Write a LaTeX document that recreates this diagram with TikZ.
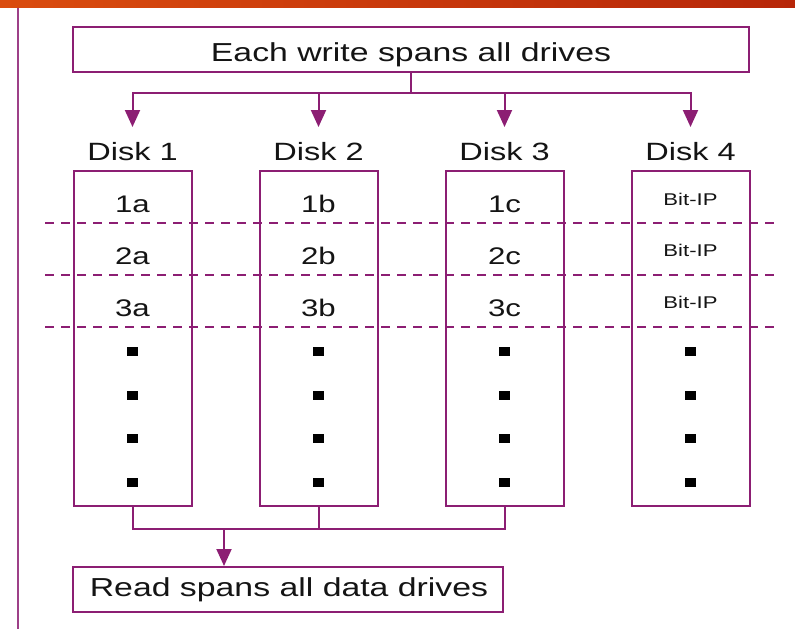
\documentclass[tikz,border=0pt]{standalone}
\usepackage{fontspec}
\setmainfont{Liberation Sans}
\usepackage{graphicx}
\usetikzlibrary{arrows.meta}

\definecolor{raidline}{RGB}{140,30,115}
\definecolor{bandL}{RGB}{218,76,14}
\definecolor{bandR}{RGB}{183,38,8}
\definecolor{inkc}{RGB}{20,20,20}

% slide text is set horizontally widened
\newcommand\wide[1]{\scalebox{1.3}[1]{#1}}
\newcommand\fsz[1]{\fontsize{#1}{#1}\selectfont}

\begin{document}
\begin{tikzpicture}[x=1pt,y=-1pt,
  frame/.style={draw=raidline, line width=2pt, inner sep=0pt},
  wire/.style={draw=raidline, line width=2pt, line cap=rect},
  arrowline/.style={draw=raidline, line width=2pt, -{Triangle[length=17pt,width=15pt]}},
  stripe/.style={draw=raidline, line width=1.6pt, dash pattern=on 9pt off 7pt},
  caption/.style={anchor=base, inner sep=0pt, text=inkc, font=\fsz{26}},
  disklabel/.style={anchor=base, inner sep=0pt, text=inkc, font=\fsz{25}},
  blocklabel/.style={anchor=base, inner sep=0pt, text=inkc, font=\fsz{24}},
  paritylabel/.style={anchor=base, inner sep=0pt, text=inkc, font=\fsz{17}},
  blob/.style={fill=black, inner sep=0pt, minimum width=11.5pt, minimum height=9pt},
]
\useasboundingbox (0,0) rectangle (795,629);

% header band and side rule
\shade[left color=bandL, right color=bandR] (0,0) rectangle (795,7.5);
\draw[draw=raidline!85, line width=2pt] (18,7.5) -- (18,629);

% stripe boundaries across all drives
\foreach \y [count=\n] in {223,275,327} {
  \coordinate (sl\n) at (45,\y);
  \coordinate (sr\n) at (778,\y);
  \draw[stripe] (sl\n) -- (sr\n);
}

% write request
\node[frame, minimum width=676pt, minimum height=45pt] (wbox) at (411,49.5) {};
\node[caption] (wtext) at (411,61.7) {\wide{Each write spans all drives}};

% drives
\foreach \i/\x in {1/132.5,2/318.5,3/504.5,4/690.5} {
  \node[frame, minimum width=118pt, minimum height=335pt] (disk\i) at (\x,338.5) {};
  \node[disklabel] (dlabel\i) at (\x,160) {\wide{Disk \i}};
  \coordinate (tap\i) at (\x,93);
  \coordinate (tip\i) at (\x,127);
  \draw[arrowline] (tap\i) -- (tip\i);
  \foreach \y [count=\k] in {351,395,438.5,482.5}
    \node[blob] (dot\i\k) at (\x,\y) {};
}

% data blocks
\foreach \i/\x/\l in {1/132.5/a,2/318.5/b,3/504.5/c} {
  \foreach \r/\y in {1/212.5,2/264.3,3/316}
    \node[blocklabel] (blk\i\r) at (\x,\y) {\wide{\r\l}};
}
% parity blocks
\foreach \r/\y in {1/205,2/256.5,3/308}
  \node[paritylabel] (par\r) at (690.5,\y) {\wide{Bit-IP}};

% write fan-out
\coordinate (wjoin) at (411,93);
\draw[wire] (wbox.south) -- (wjoin);
\draw[wire] (tap1) -- (tap4);

% read request
\node[frame, minimum width=430pt, minimum height=45pt] (rbox) at (288,589.5) {};
\node[caption] (rtext) at (289,596.7) {\wide{Read spans all data drives}};

% read fan-in
\coordinate (rb1) at (132.5,529);
\coordinate (rb2) at (318.5,529);
\coordinate (rb3) at (504.5,529);
\coordinate (rsplit) at (224,529);
\draw[wire] (disk1.south) -- (rb1) -- (rb3) -- (disk3.south);
\draw[wire] (disk2.south) -- (rb2);
\draw[arrowline] (rsplit) -- (rbox.north -| rsplit);
\end{tikzpicture}
\end{document}
